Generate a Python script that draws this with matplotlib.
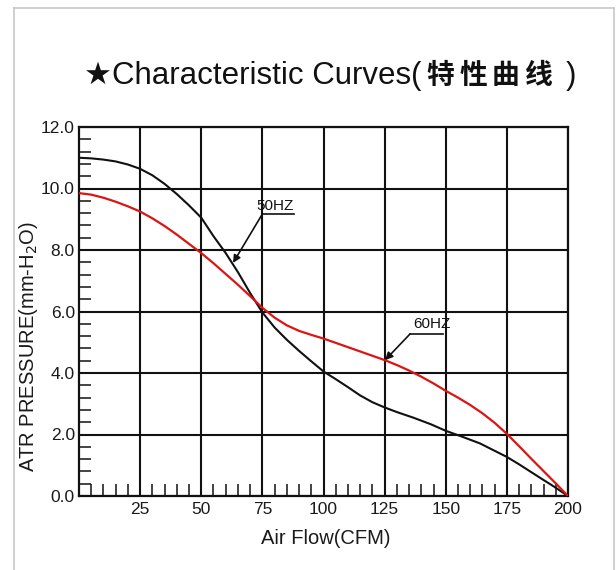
import matplotlib
matplotlib.use("Agg")
import numpy as np
from matplotlib import pyplot as plt
from matplotlib.lines import Line2D
from matplotlib.ticker import MultipleLocator, FixedLocator

# 50HZ 曲线 (黑色)
flow_50 = [0, 5, 10, 15, 20, 25, 30, 35, 40, 45, 50, 55, 60, 65, 70, 75, 80,
           85, 90, 95, 100, 105, 110, 115, 120, 125, 130, 137, 144, 150, 157,
           164, 170, 175, 180, 184.5, 190, 194, 200]
pres_50 = [11.0, 10.98, 10.94, 10.88, 10.78, 10.64, 10.43, 10.15, 9.82, 9.45,
           9.05, 8.45, 7.9, 7.28, 6.6, 5.97, 5.48, 5.08, 4.72, 4.38, 4.05, 3.8,
           3.54, 3.27, 3.05, 2.88, 2.73, 2.54, 2.33, 2.12, 1.92, 1.71, 1.47,
           1.27, 1.03, 0.8, 0.52, 0.32, 0.0]

# 60HZ 曲线 (红色)
flow_60 = [0, 5, 10, 15, 20, 25, 30, 35, 40, 45, 50, 55, 60, 65, 70, 75, 80,
           85, 90, 95, 100, 105, 110, 115, 120, 125, 130, 135, 140, 145, 150,
           155, 160, 165, 170, 175, 180, 185, 190, 195, 200]
pres_60 = [9.85, 9.8, 9.7, 9.57, 9.42, 9.25, 9.03, 8.78, 8.5, 8.2, 7.9, 7.57,
           7.22, 6.87, 6.5, 6.12, 5.8, 5.55, 5.37, 5.24, 5.12, 4.98, 4.84, 4.7,
           4.56, 4.42, 4.26, 4.08, 3.88, 3.66, 3.42, 3.2, 2.96, 2.69, 2.38,
           2.02, 1.62, 1.21, 0.81, 0.41, 0.0]

x_ticks = [25, 50, 75, 100, 125, 150, 175, 200]
y_ticks = [0, 2, 4, 6, 8, 10, 12]
y_tick_labels = ['0.0', '2.0', '4.0', '6.0', '8.0', '10.0', '12.0']

# 标注: 文字, 文字位置, 下划线起点, 下划线终点, 箭头指向
labels = ['50HZ', '60HZ']
label_text_xy = [(80.3, 9.42), (144.5, 5.6)]
label_line_start = [(75.0, 9.17), (135.4, 5.27)]
label_line_end = [(87.8, 9.17), (149.0, 5.27)]
label_arrow_tip = [(63.0, 7.58), (125.2, 4.42)]

RED = '#dc1414'
INK = '#111111'
FONT = ['Liberation Sans', 'DejaVu Sans']

fig = plt.figure(figsize=(6.16, 5.70), dpi=100)
ax = fig.add_axes([79 / 616, 1 - 496 / 570, 489 / 616, 369 / 570])

ax.plot(flow_50, pres_50, color=INK, lw=1.5, zorder=3)
ax.plot(flow_60, pres_60, color=RED, lw=1.6, zorder=4)

ax.set_xlim(0, 200)
ax.set_ylim(0, 12)

ax.xaxis.set_major_locator(FixedLocator(x_ticks))
ax.xaxis.set_minor_locator(MultipleLocator(5))
ax.yaxis.set_major_locator(FixedLocator(y_ticks))
ax.yaxis.set_minor_locator(MultipleLocator(0.4))
ax.set_xticklabels([str(v) for v in x_ticks])
ax.set_yticklabels(y_tick_labels)

ax.grid(True, which='major', color=INK, lw=1.5)
ax.tick_params(axis='both', which='both', direction='in', length=8.6,
               width=1.1, color=INK, labelsize=12.5, labelcolor='#1a1a1a')
ax.tick_params(axis='x', which='both', pad=4)
ax.tick_params(axis='y', which='both', pad=3)
for lab in ax.get_xticklabels() + ax.get_yticklabels():
    lab.set_family(FONT)
for sp in ax.spines.values():
    sp.set_color(INK)
    sp.set_linewidth(1.6)

# 标注
for i in range(len(labels)):
    (x0, y0), (x1, y1) = label_line_start[i], label_line_end[i]
    ax.plot([x0, x1], [y0, y1], color=INK, lw=1.2, zorder=5)
    ax.annotate('', xy=label_arrow_tip[i], xytext=(x0, y0),
                arrowprops=dict(arrowstyle='-|>', color=INK, lw=1.2,
                                mutation_scale=11, shrinkA=0, shrinkB=0),
                zorder=5)
    ax.text(label_text_xy[i][0], label_text_xy[i][1], labels[i], fontsize=11,
            family=FONT, color=INK, ha='center', va='center', zorder=5)

# 坐标轴标题
fig.text(326 / 616, 1 - 539 / 570, 'Air Flow(CFM)', fontsize=14.5, family=FONT,
         color='#1a1a1a', ha='center', va='center')
fig.text(29 / 616, 1 - 347 / 570, r'ATR PRESSURE(mm-H$_2$O)', fontsize=14.5,
         family=FONT, color='#1a1a1a', rotation=90, ha='center', va='center')

# 标题: 英文部分常规, 中文部分加粗
base_y = 1 - 84 / 570
t1 = fig.text(84 / 616, base_y, '★Characteristic Curves(', fontsize=22.5,
              family=FONT, color='#111111', ha='left', va='baseline')
fig.canvas.draw()
r = fig.canvas.get_renderer()
x = t1.get_window_extent(r).x1 + 5
for ch in '特性曲线':
    t = fig.text(x / fig.bbox.width, base_y, ch, fontsize=20,
                 family=['Noto Sans CJK SC'], weight='bold', color='#111111',
                 ha='left', va='baseline')
    x = t.get_window_extent(r).x1 + 5
fig.text((x + 8) / fig.bbox.width, base_y, ')', fontsize=22.5,
         family=FONT, color='#111111', ha='left', va='baseline')

# 外框
fig.add_artist(Line2D([14 / 616, 14 / 616], [0, 1 - 8 / 570], color='#c8c8c8', lw=1.2))
fig.add_artist(Line2D([14 / 616, 614 / 616], [1 - 8 / 570, 1 - 8 / 570], color='#c8c8c8', lw=1.2))
fig.add_artist(Line2D([614 / 616, 614 / 616], [0, 1 - 8 / 570], color='#c8c8c8', lw=1.2))

fig.savefig('out.png', dpi=100)
